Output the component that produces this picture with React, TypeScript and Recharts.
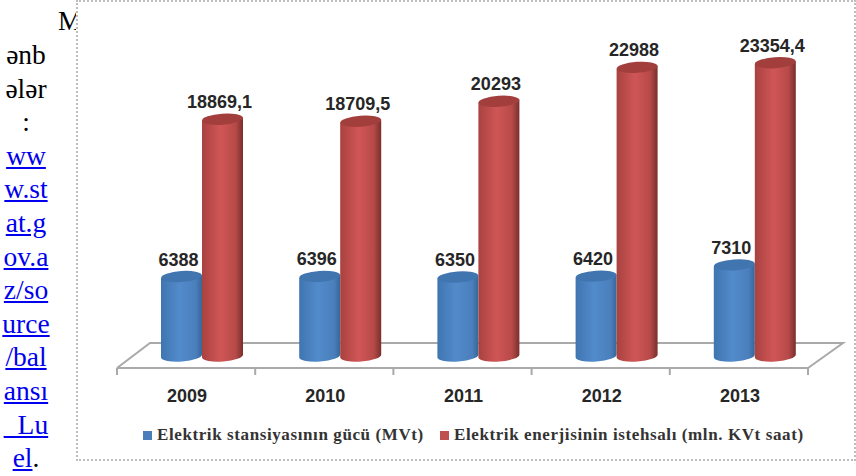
import { BarChart, Bar, XAxis, YAxis, Legend, LabelList, usePlotArea } from 'recharts';

const years = ['2009', '2010', '2011', '2012', '2013'];
const capacity = [6388, 6396, 6350, 6420, 7310];
const production = [18869.1, 18709.5, 20293, 22988, 23354.4];
const sourceLines = ['ənb', 'ələr', ':'];
const linkLines = ['ww', 'w.st', 'at.g', 'ov.a', 'z/so', 'urce', '/bal', 'ansı', '_Lu', 'el'];

const chartData = years.map((year, i) => ({
  year,
  capacity: capacity[i],
  production: production[i],
}));

// the picture is a fake 3D chart, columns stand a bit behind the axis
const DEPTH_X = 16;

function Cylinder({ x, y, width, height, gradient, top }: any) {
  const left = x + DEPTH_X;
  const right = left + width;
  const cx = left + width / 2;
  const bottom = y + height;
  const ry = 5.5;
  return (
    <g>
      <path
        d={`M${left},${y + 1.5} L${left},${bottom + 0.5} A${width / 2},${ry} -4 0 0 ${right},${bottom - 2.5} L${right},${y - 1.5} Z`}
        fill={`url(#${gradient})`}
      />
      <ellipse cx={cx} cy={y} rx={width / 2} ry={ry} fill={top} transform={`rotate(-4 ${cx} ${y})`} />
    </g>
  );
}

function ValueLabel({ x, y, width, value }: any) {
  return (
    <text
      x={x + DEPTH_X + width / 2 - 3}
      y={y - 11}
      textAnchor="middle"
      fontFamily="Liberation Sans"
      fontWeight="bold"
      fontSize={18}
      fill="#262626"
    >
      {String(value).replace('.', ',')}
    </text>
  );
}

// floor of the 3D box, plus the axis ticks which sit between the categories
function Floor() {
  const plot = usePlotArea();
  if (!plot) return null;
  const bottom = plot.y + plot.height;
  const right = plot.x + plot.width;
  const step = plot.width / years.length;
  return (
    <g stroke="#a9a9a9" strokeWidth={2} fill="none">
      <polyline
        points={`${plot.x},${bottom} ${plot.x + 33},${bottom - 25} ${right + 35},${bottom - 25} ${right},${bottom}`}
      />
      {[...years, 'end'].map((key, i) => (
        <line key={key} x1={plot.x + i * step} y1={bottom} x2={plot.x + i * step} y2={bottom + 7} />
      ))}
    </g>
  );
}

function ChartLegend() {
  const items = [
    { name: 'Elektrik stansiyasının gücü (MVt)', color: '#4a7ebb', left: 67 },
    { name: 'Elektrik enerjisinin istehsalı (mln. KVt saat)', color: '#c0504d', left: 364 },
  ];
  return (
    <div style={{ position: 'relative', height: 20, width: 780 }}>
      {items.map((item) => (
        <div key={item.name} style={{ position: 'absolute', left: item.left, top: 0, whiteSpace: 'nowrap' }}>
          <span style={{ display: 'inline-block', width: 9, height: 9, background: item.color, marginRight: 5 }} />
          <span
            style={{
              fontFamily: 'Liberation Serif',
              fontWeight: 'bold',
              fontSize: 17,
              letterSpacing: 0.6,
              color: '#333',
            }}
          >
            {item.name}
          </span>
        </div>
      ))}
    </div>
  );
}

export default function App() {
  return (
    <div style={{ position: 'absolute', left: 0, top: 0, width: 856, height: 476, background: '#fff', overflow: 'hidden' }}>
      {/* text column left of the picture */}
      <div
        style={{
          position: 'absolute',
          left: 0,
          top: 38,
          width: 52,
          textAlign: 'center',
          fontFamily: 'Liberation Serif',
          fontSize: 27.5,
          lineHeight: '33.6px',
          color: '#000',
        }}
      >
        {sourceLines.map((line) => (
          <div key={line}>{line}</div>
        ))}
        {linkLines.map((line, i) => (
          <div key={line}>
            <a href="#" style={{ color: '#0000ee' }}>
              {line}
            </a>
            {i === linkLines.length - 1 ? '.' : ''}
          </div>
        ))}
      </div>
      <div
        style={{
          position: 'absolute',
          left: 58,
          top: 4,
          fontFamily: 'Liberation Serif',
          fontSize: 27,
          lineHeight: '34px',
          color: '#000',
        }}
      >
        M
      </div>

      <div
        style={{
          position: 'absolute',
          left: 76,
          top: 0,
          width: 780,
          height: 461,
          boxSizing: 'border-box',
          border: '2px dotted #bdbdbd',
          background: '#fff',
        }}
      />
      <div style={{ position: 'absolute', left: 76, top: 0 }}>
        <BarChart
          width={780}
          height={460}
          data={chartData}
          margin={{ top: 15, right: 48, bottom: 52, left: 41 }}
          barSize={41}
          barGap={0}
        >
          <defs>
            <linearGradient id="blueSide" x1="0" y1="0" x2="1" y2="0">
              <stop offset="0%" stopColor="#3f75b0" />
              <stop offset="45%" stopColor="#528bcb" />
              <stop offset="85%" stopColor="#4a7fbc" />
              <stop offset="100%" stopColor="#356799" />
            </linearGradient>
            <linearGradient id="redSide" x1="0" y1="0" x2="1" y2="0">
              <stop offset="0%" stopColor="#a84240" />
              <stop offset="45%" stopColor="#d05656" />
              <stop offset="82%" stopColor="#b64a48" />
              <stop offset="100%" stopColor="#7a2e2c" />
            </linearGradient>
          </defs>
          <Floor />
          <XAxis
            dataKey="year"
            axisLine={{ stroke: '#a9a9a9', strokeWidth: 2 }}
            tickLine={false}
            tickSize={7}
            tick={{ fill: '#262626', fontFamily: 'Liberation Sans', fontWeight: 'bold', fontSize: 18, dy: 12, dx: 1 }}
            height={40}
            interval={0}
          />
          <YAxis hide domain={[-870, 27140]} />
          <Legend
            content={<ChartLegend />}
            verticalAlign="middle"
            wrapperStyle={{ position: 'absolute', left: 0, top: 425, width: 780 }}
          />
          <Bar
            dataKey="capacity"
            name="Elektrik stansiyasının gücü (MVt)"
            fill="#4a7ebb"
            isAnimationActive={false}
            shape={(props: any) => <Cylinder {...props} gradient="blueSide" top="#4175b0" />}
          >
            <LabelList dataKey="capacity" content={<ValueLabel />} />
          </Bar>
          <Bar
            dataKey="production"
            name="Elektrik enerjisinin istehsalı (mln. KVt saat)"
            fill="#c0504d"
            isAnimationActive={false}
            shape={(props: any) => <Cylinder {...props} gradient="redSide" top="#a23f3d" />}
          >
            <LabelList dataKey="production" content={<ValueLabel />} />
          </Bar>
        </BarChart>
      </div>
    </div>
  );
}
